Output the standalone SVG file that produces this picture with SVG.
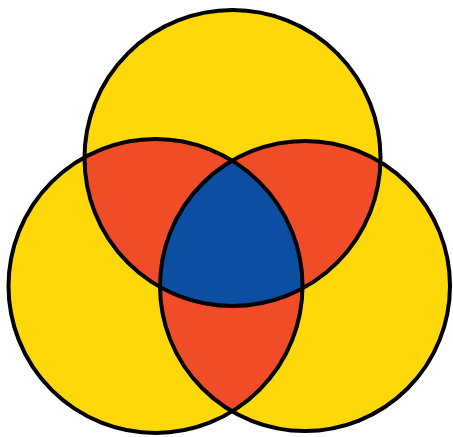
<svg xmlns="http://www.w3.org/2000/svg" width="453" height="437" viewBox="0 0 453 437">
  <style>
    .yellow { fill: #FFD80A; }
    .red { fill: #F04C28; }
    .blue { fill: #0B4EA2; }
    .outline { fill: none; stroke: #000000; stroke-width: 4; }
  </style>
  <defs>
    <clipPath id="clipTop"><circle cx="232.5" cy="158" r="148"/></clipPath>
    <clipPath id="clipLeft"><circle cx="155.5" cy="286" r="147"/></clipPath>
    <clipPath id="clipRight"><circle cx="305" cy="286" r="145"/></clipPath>
  </defs>
  <rect width="453" height="437" fill="#FFFFFF"/>
  <g id="set-top">
    <circle class="yellow" cx="232.5" cy="158" r="148"/>
  </g>
  <g id="set-left">
    <circle class="yellow" cx="155.5" cy="286" r="147"/>
  </g>
  <g id="set-right">
    <circle class="yellow" cx="305" cy="286" r="145"/>
  </g>
  <g id="overlap-top-left" clip-path="url(#clipTop)">
    <circle class="red" cx="155.5" cy="286" r="147"/>
  </g>
  <g id="overlap-top-right" clip-path="url(#clipTop)">
    <circle class="red" cx="305" cy="286" r="145"/>
  </g>
  <g id="overlap-left-right" clip-path="url(#clipLeft)">
    <circle class="red" cx="305" cy="286" r="145"/>
  </g>
  <g id="overlap-all" clip-path="url(#clipTop)">
    <g clip-path="url(#clipLeft)">
      <circle class="blue" cx="305" cy="286" r="145"/>
    </g>
  </g>
  <g id="outlines">
    <circle class="outline" cx="232.5" cy="158" r="148"/>
    <circle class="outline" cx="155.5" cy="286" r="147"/>
    <circle class="outline" cx="305" cy="286" r="145"/>
  </g>
</svg>
